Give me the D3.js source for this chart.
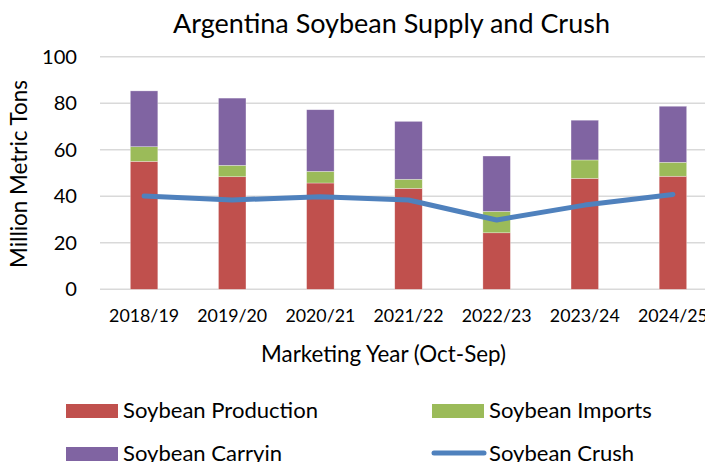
<!DOCTYPE html>
<html><head><meta charset="utf-8">
<script src="https://cdn.jsdelivr.net/npm/d3@7"></script>
<style>
html,body{margin:0;padding:0;background:#fff;overflow:hidden;}
text{font-family:Lato,"Open Sans","Liberation Sans",sans-serif;fill:#000;}
</style></head>
<body>
<svg id="c" width="705" height="462"></svg>
<script>
const years = ["2018/19","2019/20","2020/21","2021/22","2022/23","2023/24","2024/25"];
const production = [55.0, 48.4, 45.7, 43.4, 24.3, 47.7, 48.6];
const imports = [6.3, 4.9, 5.0, 3.9, 9.2, 7.9, 6.0];
const carryin = [24.0, 28.9, 26.5, 24.9, 23.8, 17.1, 24.1];
const crush = [40.1, 38.4, 39.8, 38.4, 29.8, 36.2, 40.8];
const yTicks = [0, 20, 40, 60, 80, 100];

const seriesNames = ["Soybean Production","Soybean Imports","Soybean Carryin","Soybean Crush"];
const colors = {prod:"#C0504D", imp:"#9BBB59", car:"#8064A2", crush:"#4F81BD"};

const svg = d3.select("#c");

function fit(sel, target) {
  const n = sel.node();
  const fs = parseFloat(sel.attr("font-size"));
  const w = n.getComputedTextLength();
  sel.attr("font-size", (fs * target / w).toFixed(2));
}

const x = d3.scaleBand().domain(years).range([100, 717]).paddingInner(0.688).paddingOuter(0.344);
const y = d3.scaleLinear().domain([0, 100]).range([289.3, 56.7]);

// gridlines
svg.append("g").selectAll("line").data(yTicks).join("line")
  .attr("x1", 100).attr("x2", 717)
  .attr("y1", d => y(d)).attr("y2", d => y(d))
  .attr("stroke", "#D9D9D9").attr("stroke-width", 1.4);

// stacked bars
const table = years.map((yr, i) => ({year: yr, prod: production[i], imp: imports[i], car: carryin[i]}));
const stack = d3.stack().keys(["prod","imp","car"])(table);
svg.append("g").selectAll("g").data(stack).join("g")
  .attr("fill", d => colors[d.key])
  .selectAll("rect").data(d => d).join("rect")
  .attr("x", d => x(d.data.year))
  .attr("width", x.bandwidth())
  .attr("y", d => y(d[1]))
  .attr("height", d => y(d[0]) - y(d[1]))
  .attr("stroke", "#ffffff").attr("stroke-opacity", 0.5).attr("stroke-width", 0.6);

// crush line
const line = d3.line().x((d, i) => x(years[i]) + x.bandwidth() / 2).y(d => y(d));
svg.append("path").datum(crush).attr("d", line)
  .attr("fill", "none").attr("stroke", colors.crush).attr("stroke-width", 5)
  .attr("stroke-linecap", "round").attr("stroke-linejoin", "round");

// y tick labels
const yl = svg.append("g").selectAll("text").data(yTicks).join("text")
  .attr("x", 77).attr("y", d => y(d) + 7)
  .attr("text-anchor", "end").attr("font-size", 19.5).text(d => d);
{
  const w = yl.nodes()[5].getComputedTextLength();
  yl.attr("font-size", (19.5 * 35 / w).toFixed(2));
}

// x tick labels
const xt = svg.append("g").selectAll("text").data(years).join("text")
  .attr("x", d => x(d) + x.bandwidth() / 2).attr("y", 322)
  .attr("text-anchor", "middle").attr("font-size", 17).text(d => d);
{
  const w = xt.nodes()[0].getComputedTextLength();
  xt.attr("font-size", (17 * 70 / w).toFixed(2));
}

// title
const title = svg.append("text").attr("x", 391.5).attr("y", 33).attr("text-anchor", "middle")
  .attr("font-size", 26).text("Argentina Soybean Supply and Crush");
fit(title, 437);

// axis titles
const yt = svg.append("text").attr("transform", "translate(27,174) rotate(-90)")
  .attr("text-anchor", "middle").attr("font-size", 19).text("Million Metric Tons");
fit(yt, 188);
const xtt = svg.append("text").attr("x", 383.5).attr("y", 361.5).attr("text-anchor", "middle")
  .attr("font-size", 19).text("Marketing Year (Oct-Sep)");
fit(xtt, 245);

// legend
const leg = svg.append("g");
const legItems = [
  {name: seriesNames[0], c: colors.prod, x: 66, y: 404, type: "rect"},
  {name: seriesNames[1], c: colors.imp, x: 432, y: 404, type: "rect"},
  {name: seriesNames[2], c: colors.car, x: 66, y: 447, type: "rect"},
  {name: seriesNames[3], c: colors.crush, x: 432, y: 447, type: "line"}
];
legItems.forEach(it => {
  if (it.type === "rect") {
    leg.append("rect").attr("x", it.x).attr("y", it.y).attr("width", 52).attr("height", 14).attr("fill", it.c);
  } else {
    leg.append("line").attr("x1", it.x + 2).attr("x2", it.x + 52).attr("y1", it.y + 6).attr("y2", it.y + 6)
      .attr("stroke", it.c).attr("stroke-width", 5).attr("stroke-linecap", "round");
  }
});
const lt = leg.selectAll("text.l").data(legItems).join("text").attr("class", "l")
  .attr("x", d => d.x + 57).attr("y", d => d.y + 14).attr("font-size", 19).text(d => d.name);
{
  const w = lt.nodes()[0].getComputedTextLength();
  lt.attr("font-size", (19 * 195 / w).toFixed(2));
}
</script>
</body></html>
